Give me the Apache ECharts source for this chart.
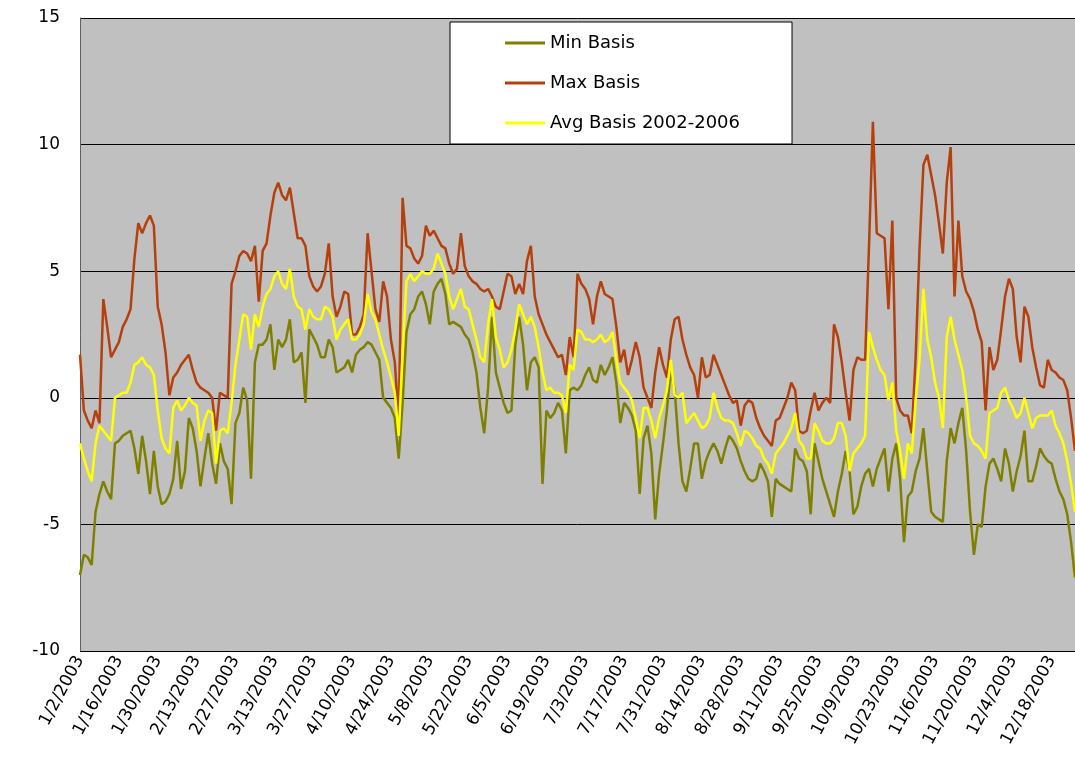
<!DOCTYPE html>
<html>
<head>
<meta charset="utf-8">
<script src="https://cdn.jsdelivr.net/npm/echarts@6/dist/echarts.min.js"></script>
<style>
  html, body { margin: 0; background: #fff; }
  #basis-chart { width: 1075px; height: 762px; }
</style>
</head>
<body>
<div id="basis-chart"></div>
<script>
// trading days (weekdays) from 1/2/2003
const tradingDays = [];
let day = new Date(2003, 0, 2);
while (tradingDays.length < 257) {
  if (day.getDay() !== 0 && day.getDay() !== 6) {
    tradingDays.push((day.getMonth() + 1) + '/' + day.getDate() + '/' + day.getFullYear());
  }
  day.setDate(day.getDate() + 1);
}

const seriesNames = ['Min Basis', 'Max Basis', 'Avg Basis 2002-2006'];

const minBasis = [
  -7.0, -6.2, -6.3, -6.6, -4.5, -3.8, -3.3, -3.7, -4.0, -1.8,
  -1.7, -1.5, -1.4, -1.3, -2.0, -3.0, -1.5, -2.5, -3.8, -2.1,
  -3.5, -4.2, -4.1, -3.8, -3.2, -1.7, -3.6, -2.9, -0.8, -1.2,
  -2.1, -3.5, -2.4, -1.4, -2.6, -3.4, -1.8, -2.5, -2.8, -4.2,
  -1.0, -0.6, 0.4, -0.1, -3.2, 1.4, 2.1, 2.1, 2.3, 2.9,
  1.1, 2.3, 2.0, 2.3, 3.1, 1.4, 1.5, 1.8, -0.2, 2.7,
  2.4, 2.1, 1.6, 1.6, 2.3, 2.0, 1.0, 1.1, 1.2, 1.5,
  1.0, 1.7, 1.9, 2.0, 2.2, 2.1, 1.8, 1.5, 0.0, -0.2,
  -0.4, -0.8, -2.4, -0.2, 2.6, 3.3, 3.5, 4.0, 4.2, 3.7,
  2.9, 4.2, 4.5, 4.7, 4.1, 2.9, 3.0, 2.9, 2.8, 2.5,
  2.3, 1.8, 1.0, -0.4, -1.4, 0.4, 3.2, 1.0, 0.4, -0.2,
  -0.6, -0.5, 2.1, 3.2, 2.1, 0.3, 1.4, 1.6, 1.2, -3.4,
  -0.5, -0.8, -0.6, -0.2, -0.5, -2.2, 0.3, 0.4, 0.3, 0.5,
  0.9, 1.2, 0.7, 0.6, 1.3, 0.9, 1.2, 1.6, 0.6, -1.0,
  -0.2, -0.4, -0.7, -1.3, -3.8, -1.6, -1.1, -2.2, -4.8, -3.0,
  -1.8, -0.5, 1.1, 0.3, -1.8, -3.3, -3.7, -2.8, -1.8, -1.8,
  -3.2, -2.5, -2.1, -1.8, -2.1, -2.6, -2.0, -1.5, -1.7, -2.0,
  -2.5, -2.9, -3.2, -3.3, -3.2, -2.6, -2.9, -3.3, -4.7, -3.2,
  -3.4, -3.5, -3.6, -3.7, -2.0, -2.4, -2.5, -2.9, -4.6, -1.8,
  -2.5, -3.2, -3.7, -4.2, -4.7, -3.7, -3.0, -2.1, -2.9, -4.6,
  -4.3, -3.5, -3.0, -2.8, -3.5, -2.8, -2.4, -2.0, -3.7, -2.4,
  -1.8, -3.2, -5.7, -3.9, -3.7, -2.9, -2.4, -1.2, -2.9, -4.5,
  -4.7, -4.8, -4.9, -2.5, -1.2, -1.8, -1.0, -0.4, -2.1, -4.5,
  -6.2, -5.0, -5.1, -3.5, -2.6, -2.4, -2.8, -3.3, -2.0, -2.6,
  -3.7, -2.9, -2.3, -1.3, -3.3, -3.3, -2.7, -2.0, -2.3, -2.5,
  -2.6, -3.2, -3.7, -4.0, -4.6, -5.7, -7.1
];

const maxBasis = [
  1.7, -0.5, -0.9, -1.2, -0.5, -1.0, 3.9, 2.8, 1.6, 1.9,
  2.2, 2.8, 3.1, 3.5, 5.5, 6.9, 6.5, 6.9, 7.2, 6.8,
  3.6, 2.9, 1.8, 0.1, 0.8, 1.0, 1.3, 1.5, 1.7, 1.1,
  0.6, 0.4, 0.3, 0.2, 0.0, -1.3, 0.2, 0.1, 0.0, 4.5,
  5.0, 5.6, 5.8, 5.7, 5.4, 6.0, 3.8, 5.8, 6.1, 7.2,
  8.1, 8.5, 8.0, 7.8, 8.3, 7.3, 6.3, 6.3, 6.0, 4.8,
  4.4, 4.2, 4.4, 4.9, 6.1, 4.0, 3.2, 3.6, 4.2, 4.1,
  2.5, 2.5, 2.8, 3.3, 6.5, 5.0, 3.5, 3.0, 4.6, 4.0,
  2.3, 1.4, -0.9, 7.9, 6.0, 5.9, 5.5, 5.3, 5.6, 6.8,
  6.4, 6.6, 6.3, 6.0, 5.9, 5.3, 4.9, 5.1, 6.5, 5.2,
  4.8, 4.6, 4.5, 4.3, 4.2, 4.3, 4.0, 3.6, 3.5, 4.2,
  4.9, 4.8, 4.1, 4.5, 4.1, 5.4, 6.0, 4.0, 3.3, 2.9,
  2.5, 2.2, 1.9, 1.6, 1.7, 0.9, 2.4, 1.6, 4.9, 4.5,
  4.3, 3.9, 2.9, 4.0, 4.6, 4.1, 4.0, 3.9, 2.8, 1.4,
  1.9, 0.9, 1.5, 2.2, 1.6, 0.4, 0.0, -0.4, 1.0, 2.0,
  1.3, 0.8, 2.3, 3.1, 3.2, 2.3, 1.7, 1.2, 0.9, 0.0,
  1.6, 0.8, 0.9, 1.7, 1.3, 0.9, 0.5, 0.1, -0.2, -0.1,
  -1.1, -0.3, -0.1, -0.2, -0.8, -1.2, -1.5, -1.7, -1.9, -0.9,
  -0.8, -0.4, 0.0, 0.6, 0.3, -1.3, -1.4, -1.3, -0.5, 0.2,
  -0.5, -0.2, 0.0, -0.2, 2.9, 2.4, 1.4, 0.2, -0.9, 1.1,
  1.6, 1.5, 1.5, 6.0, 10.9, 6.5, 6.4, 6.3, 3.5, 7.0,
  0.0, -0.5, -0.7, -0.7, -1.4, 1.6, 5.9, 9.2, 9.6, 8.8,
  8.0, 6.9, 5.7, 8.5, 9.9, 4.0, 7.0, 4.8, 4.2, 3.9,
  3.4, 2.7, 2.2, -0.5, 2.0, 1.1, 1.5, 2.7, 4.0, 4.7,
  4.3, 2.4, 1.4, 3.6, 3.2, 2.0, 1.2, 0.5, 0.4, 1.5,
  1.1, 1.0, 0.8, 0.7, 0.3, -0.8, -2.1
];

const avgBasis = [
  -1.8, -2.4, -2.9, -3.3, -1.8, -1.1, -1.3, -1.5, -1.7, 0.0,
  0.1, 0.2, 0.2, 0.6, 1.3, 1.4, 1.6, 1.3, 1.2, 0.9,
  -0.5, -1.6, -2.0, -2.2, -0.4, -0.1, -0.5, -0.3, 0.0, -0.2,
  -0.3, -1.7, -0.9, -0.5, -0.6, -2.6, -1.3, -1.2, -1.4, -0.2,
  1.3, 2.3, 3.3, 3.2, 1.9, 3.3, 2.8, 3.6, 4.1, 4.3,
  4.8, 5.0, 4.5, 4.3, 5.1, 4.0, 3.6, 3.5, 2.7, 3.5,
  3.2, 3.1, 3.1, 3.6, 3.5, 3.2, 2.3, 2.7, 2.9, 3.1,
  2.3, 2.3, 2.5, 2.9, 4.1, 3.4, 3.1, 2.5, 1.9, 1.4,
  0.8, 0.2, -1.5, 1.8, 4.6, 4.9, 4.6, 4.8, 5.0, 4.9,
  4.9, 5.1, 5.7, 5.3, 4.9, 4.0, 3.5, 3.9, 4.3, 3.6,
  3.5, 2.9, 2.3, 1.6, 1.4, 2.9, 3.9, 2.4, 1.9, 1.2,
  1.4, 1.9, 2.7, 3.7, 3.3, 2.9, 3.2, 2.8, 2.0, 1.0,
  0.3, 0.4, 0.2, 0.2, 0.1, -0.6, 1.3, 1.1, 2.7, 2.6,
  2.3, 2.3, 2.2, 2.3, 2.5, 2.2, 2.3, 2.6, 1.5, 0.6,
  0.4, 0.2, -0.1, -0.8, -1.6, -0.4, -0.4, -0.9, -1.6, -0.8,
  -0.3, 0.3, 1.5, 0.1, 0.0, 0.2, -1.0, -0.8, -0.6, -0.9,
  -1.2, -1.1, -0.8, 0.2, -0.4, -0.8, -0.9, -0.9, -1.0, -1.4,
  -1.9, -1.3, -1.4, -1.6, -1.9, -2.0, -2.4, -2.6, -3.0, -2.2,
  -2.0, -1.8, -1.5, -1.2, -0.6, -1.7, -1.9, -2.4, -2.4, -1.0,
  -1.3, -1.7, -1.8, -1.8, -1.6, -1.0, -1.0, -1.5, -2.9, -2.2,
  -2.0, -1.8, -1.5, 2.6, 2.0, 1.5, 1.1, 0.9, -0.1, 0.6,
  -1.3, -2.1, -3.2, -1.8, -2.2, -0.1, 1.5, 4.3, 2.3, 1.6,
  0.6, 0.0, -1.2, 2.4, 3.2, 2.3, 1.7, 1.1, 0.0, -1.5,
  -1.8, -1.9, -2.1, -2.4, -0.6, -0.5, -0.4, 0.2, 0.4, -0.1,
  -0.4, -0.8, -0.6, 0.0, -0.6, -1.2, -0.8, -0.7, -0.7, -0.7,
  -0.5, -1.1, -1.4, -1.8, -2.5, -3.4, -4.5
];

const lineColors = ['#808000', '#b5400c', '#ffff00'];

function drawChart() {
  let chartDom = document.getElementById('basis-chart');
  let myChart = echarts.init(chartDom, null, { renderer: 'canvas' });

  let option = {
    animation: false,
    backgroundColor: '#ffffff',
    color: lineColors,
    textStyle: { fontFamily: 'DejaVu Sans', color: '#000' },
    grid: {
      left: 80,
      right: 0,
      top: 18,
      bottom: 111,
      show: true,
      backgroundColor: '#c0c0c0',
      borderWidth: 0,
    },
    legend: {
      data: seriesNames,
      orient: 'vertical',
      left: 450,
      top: 22,
      padding: [12, 52, 12, 55],
      itemGap: 22,
      itemWidth: 40,
      itemHeight: 3,
      icon: 'rect',
      backgroundColor: '#ffffff',
      borderColor: '#000000',
      borderWidth: 1,
      textStyle: { fontSize: 18, color: '#000', fontFamily: 'DejaVu Sans' },
    },
    xAxis: {
      type: 'category',
      boundaryGap: false,
      data: tradingDays,
      axisLine: { show: false },
      axisTick: { show: false },
      axisLabel: {
        interval: 9,
        rotate: 62,
        fontSize: 17,
        color: '#000',
        margin: 6,
      },
      splitLine: { show: false },
    },
    yAxis: {
      type: 'value',
      min: -10,
      max: 15,
      interval: 5,
      axisLine: { show: true, lineStyle: { color: '#606060', width: 1 } },
      axisTick: { show: false },
      axisLabel: { fontSize: 17, color: '#000', margin: 20 },
      splitLine: { show: true, lineStyle: { color: '#000000', width: 1 } },
    },
    series: [
      { name: seriesNames[0], type: 'line', data: minBasis },
      { name: seriesNames[1], type: 'line', data: maxBasis },
      { name: seriesNames[2], type: 'line', data: avgBasis },
    ].map((s) => ({
      ...s,
      symbol: 'none',
      showSymbol: false,
      lineStyle: { width: 2.5 },
    })),
  };

  myChart.setOption(option);
}

drawChart();
</script>
</body>
</html>
